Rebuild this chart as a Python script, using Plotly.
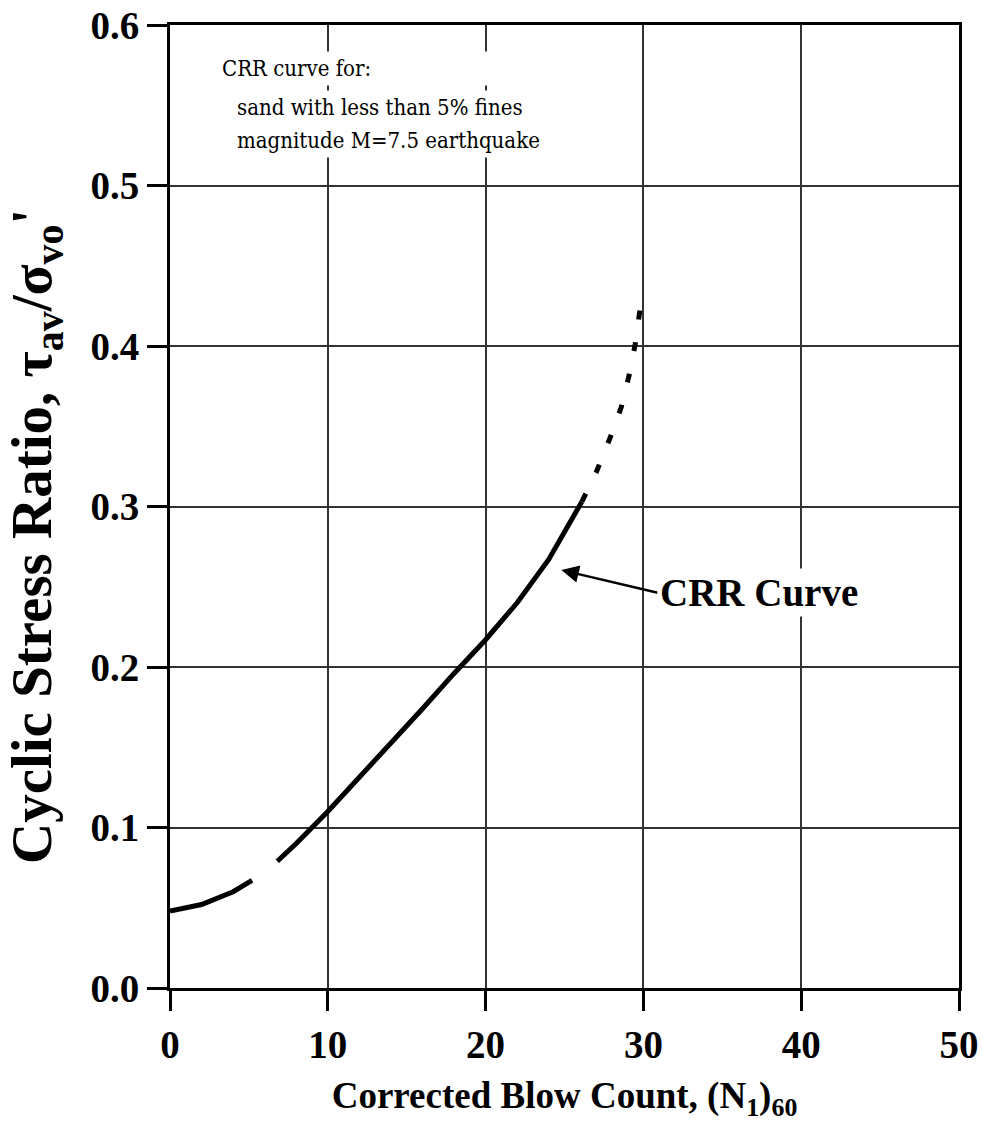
import plotly.graph_objects as go

# CRR curve for clean sand (M = 7.5), read as three pieces
n_low = [0, 2, 4, 5.2]
crr_low = [0.048, 0.052, 0.060, 0.067]

n_mid = [6.8, 8, 10, 12, 14, 16, 18, 20, 22, 24, 26.1]
crr_mid = [0.079, 0.090, 0.110, 0.131, 0.153, 0.174, 0.196, 0.217, 0.240, 0.267, 0.303]

n_high = [26.1, 27.0, 27.9, 28.6, 29.1, 29.5, 29.8]
crr_high = [0.303, 0.321, 0.343, 0.362, 0.382, 0.402, 0.424]

x_ticks = [0, 10, 20, 30, 40, 50]
y_ticks = [0.0, 0.1, 0.2, 0.3, 0.4, 0.5, 0.6]

note_lines = ["CRR curve for:", "sand with less than 5% fines", "magnitude M=7.5 earthquake"]

FONT = "Times New Roman, Liberation Serif, Tinos, serif"
FONT_REG = "DejaVu Serif Condensed, DejaVu Serif, serif"

fig = go.Figure()
solid = dict(color="black", width=5)
fig.add_trace(go.Scatter(x=n_low, y=crr_low, mode="lines", line=solid, showlegend=False))
fig.add_trace(go.Scatter(x=n_mid, y=crr_mid, mode="lines", line=solid, showlegend=False))
fig.add_trace(go.Scatter(x=n_high, y=crr_high, mode="lines",
                         line=dict(color="black", width=5, dash="9px,23px"), showlegend=False))

axis_common = dict(
    showline=True, linecolor="black", linewidth=3, mirror=True,
    showgrid=True, gridcolor="#333333", gridwidth=1.5,
    zeroline=False, automargin=False,
    ticks="outside", ticklen=20, tickwidth=3, tickcolor="black",
    tickfont=dict(family=FONT, size=39, color="black", weight="bold"),
)

fig.update_xaxes(
    range=[0, 50], tickvals=x_ticks, ticktext=[str(v) for v in x_ticks],
    title=dict(text="<b>Corrected Blow Count, (N<sub>1</sub>)<sub>60</sub></b>",
               font=dict(family=FONT, size=37, color="black"), standoff=18),
    **axis_common,
)
fig.update_yaxes(
    range=[0, 0.6], tickvals=y_ticks, ticktext=[f"{v:.1f}" for v in y_ticks],
    **axis_common,
)

# y-axis title placed as a rotated annotation
fig.add_annotation(
    x=-0.169, y=0.469, xref="paper", yref="paper", textangle=-90,
    xanchor="center", yanchor="middle",
    text="<b>Cyclic Stress Ratio, τ<sub>av</sub>/σ<sub>vo</sub>'</b>",
    showarrow=False, font=dict(family=FONT, size=57, color="black"),
)

# note block: heading line, then two indented lines
note_font = dict(family=FONT_REG, size=22, color="black")
fig.add_annotation(
    x=3.0, y=0.584, xref="x", yref="y", xanchor="left", yanchor="top",
    text=note_lines[0], width=318, align="left", showarrow=False,
    bgcolor="white", borderpad=4, font=note_font,
)
for i, line in enumerate(note_lines[1:]):
    fig.add_annotation(
        x=3.9, y=0.5483 - 0.0202 * i, xref="x", yref="y", xanchor="left", yanchor="middle",
        text=line, align="left", showarrow=False,
        bgcolor="white", borderpad=4, font=note_font,
    )

fig.add_annotation(
    x=24.8, y=0.2604, ax=31.0, ay=0.246, xref="x", yref="y", axref="x", ayref="y",
    text="", showarrow=True, arrowhead=2, arrowsize=1.4, arrowwidth=2.5, arrowcolor="black",
)
fig.add_annotation(
    x=37.3, y=0.2467, xref="x", yref="y", text="<b>CRR Curve</b>",
    showarrow=False, bgcolor="white", borderpad=2,
    font=dict(family=FONT, size=39, color="black"),
)

fig.update_layout(
    width=983, height=1144,
    margin=dict(l=170, r=24, t=25, b=156),
    paper_bgcolor="white", plot_bgcolor="white",
)

fig.write_html("out.html")
